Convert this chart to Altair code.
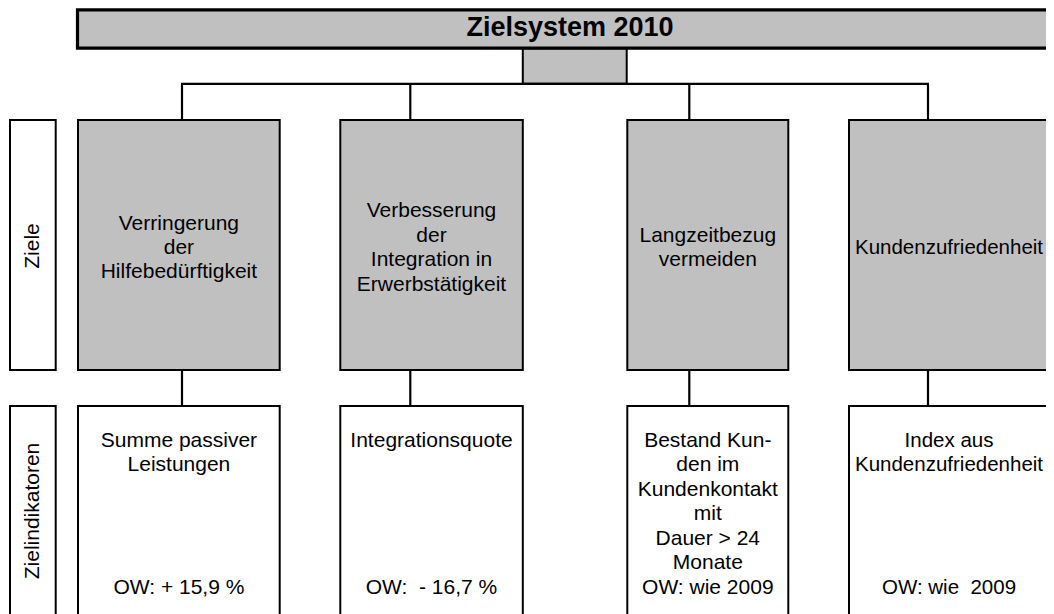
import altair as alt
import pandas as pd

# ---------------- content ----------------
title_text = "Zielsystem 2010"
row_labels = ["Ziele", "Zielindikatoren"]
goal_texts = [
    ["Verringerung", "der", "Hilfebedürftigkeit"],
    ["Verbesserung", "der", "Integration in", "Erwerbstätigkeit"],
    ["Langzeitbezug", "vermeiden"],
    ["Kundenzufriedenheit"],
]
indicator_texts = [
    ["Summe passiver", "Leistungen"],
    ["Integrationsquote"],
    ["Bestand Kun-", "den im", "Kundenkontakt", "mit", "Dauer > 24", "Monate"],
    ["Index aus", "Kundenzufriedenheit"],
]
target_values = ["OW: + 15,9 %", "OW: \u00a0- 16,7 %", "OW: wie 2009", "OW: wie \u00a02009"]

# ---------------- layout (page pixel coordinates) ----------------
col_left = [78, 340.3, 627.3, 849]
col_right = [279.7, 522.8, 788.3, 1075]
col_conn = [182, 410.3, 689.3, 928]
text_cx = [178.9, 431.5, 707.8, 949]
text_size = [21, 21, 21, 20.5]
label_x = (10, 55.7)
goal_row = (120, 370)
ind_row = (406, 640)
title_box = (77.5, 1075, 9.8, 48.2)
stem_box = (522.8, 626.7, 48.2, 83.8)
bus_y = 83.8
bus_x = (181, 929)
goal_center_y = 248
first_ind_y = 441
target_y = 588
line_h = 24.4
GRAY = "#c0c0c0"

# ---------------- build tables ----------------
boxes = []
boxes.append(dict(x=stem_box[0], x2=stem_box[1], y=stem_box[2], y2=stem_box[3], fill=GRAY, sw=2))
boxes.append(dict(x=title_box[0], x2=title_box[1], y=title_box[2], y2=title_box[3], fill=GRAY, sw=3.2))
for (y0, y1) in (goal_row, ind_row):
    boxes.append(dict(x=label_x[0], x2=label_x[1], y=y0, y2=y1, fill="white", sw=2))
for i in range(4):
    boxes.append(dict(x=col_left[i], x2=col_right[i], y=goal_row[0], y2=goal_row[1], fill=GRAY, sw=2))
    boxes.append(dict(x=col_left[i], x2=col_right[i], y=ind_row[0], y2=ind_row[1], fill="white", sw=2))
boxes_df = pd.DataFrame(boxes)

rules = [dict(x=bus_x[0], x2=bus_x[1], y=bus_y, y2=bus_y)]
for c in col_conn:
    rules.append(dict(x=c, x2=c, y=bus_y, y2=goal_row[0]))
    rules.append(dict(x=c, x2=c, y=goal_row[1], y2=ind_row[0]))
rules_df = pd.DataFrame(rules)

body = []
for i in range(4):
    cx = text_cx[i]
    fs = text_size[i]
    lines = goal_texts[i]
    start = goal_center_y - (len(lines) - 1) / 2 * line_h
    for k, t in enumerate(lines):
        body.append(dict(x=cx, y=start + k * line_h, text=t, fs=fs))
    for k, t in enumerate(indicator_texts[i]):
        body.append(dict(x=cx, y=first_ind_y + k * line_h, text=t, fs=fs))
    body.append(dict(x=cx, y=target_y, text=target_values[i], fs=fs))
body_df = pd.DataFrame(body)

title_df = pd.DataFrame([dict(x=570, y=28.3, text=title_text)])
side_df = pd.DataFrame([
    dict(x=33, y=(goal_row[0] + goal_row[1]) / 2 + 1, text=row_labels[0]),
    dict(x=33, y=511, text=row_labels[1]),
])

# ---------------- scales ----------------
xs = alt.Scale(domain=[8, 1046], nice=False, zero=False)
ys = alt.Scale(domain=[8, 614], nice=False, zero=False, reverse=True)

def X(f="x"):
    return alt.X(f"{f}:Q", scale=xs, axis=None)

def Y(f="y"):
    return alt.Y(f"{f}:Q", scale=ys, axis=None)

rect_layer = alt.Chart(boxes_df).mark_rect(stroke="black", clip=True).encode(
    x=X(), x2="x2:Q", y=Y(), y2="y2:Q",
    fill=alt.Fill("fill:N", scale=None),
    strokeWidth=alt.StrokeWidth("sw:Q", scale=None),
)

rule_layer = alt.Chart(rules_df).mark_rule(color="black", strokeWidth=2.2, clip=True).encode(
    x=X(), x2="x2:Q", y=Y(), y2="y2:Q"
)

body_layer = alt.Chart(body_df).mark_text(
    font="Liberation Sans", align="center", baseline="middle", color="#000"
).encode(x=X(), y=Y(), text="text:N", size=alt.Size("fs:Q", scale=None))

title_layer = alt.Chart(title_df).mark_text(
    font="Liberation Sans", fontSize=27, fontWeight="bold", align="center", baseline="middle", color="#000"
).encode(x=X(), y=Y(), text="text:N")

side_layer = alt.Chart(side_df).mark_text(
    font="Liberation Sans", fontSize=21, align="center", baseline="middle", angle=270, color="#000"
).encode(x=X(), y=Y(), text="text:N")

chart = alt.layer(rect_layer, rule_layer, body_layer, title_layer, side_layer).properties(
    width=1038, height=606, padding=0,
    autosize=alt.AutoSizeParams(type="none"),
).configure_view(stroke=None)

chart.save("out.html", embed_options={"renderer": "svg", "actions": False})
